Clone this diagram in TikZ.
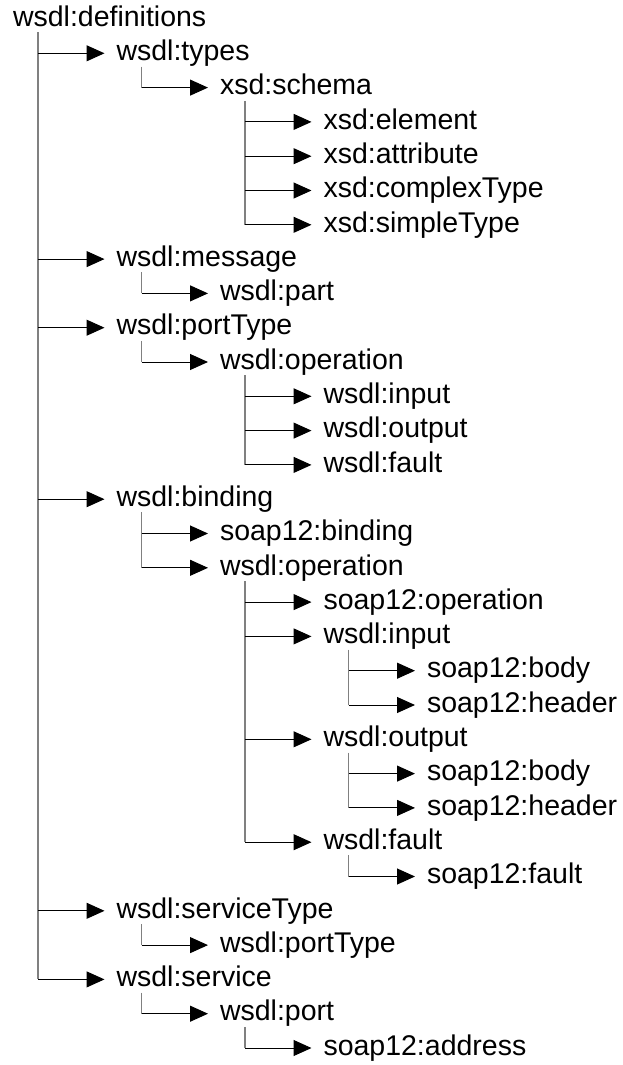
\documentclass[tikz,border=0pt]{standalone}
\usepackage{fontspec}
\setmainfont{Liberation Sans}
\usetikzlibrary{arrows.meta}

% place an element label: row, depth, name, text
\newcommand\wentry[4]{%
  \node[lbl] (#3) at ({13+103.5*#2},{19+34.3*(#1-1)}) {#4};
  \coordinate (#3-v) at ([xshift=25pt]#3.south west);}
% vertical trunk below a parent down to its last child
\newcommand\wtrunk[2]{\draw[vline] (#1-v) -- (#1-v |- #2.west);}
% arrow from a parent's trunk to a child
\newcommand\wbranch[2]{\draw[harr] (#1-v |- #2.west) -- ([xshift=-12pt]#2.west);}

\begin{document}
\begin{tikzpicture}[x=1pt, y=-1pt,
  lbl/.style={anchor=west, inner sep=0pt, outer sep=0pt,
    font=\fontsize{28.5}{32}\selectfont, text height=20.5pt, text depth=6pt},
  vline/.style={draw=black!50, line width=1.3pt},
  harr/.style={draw=black, line width=1pt, -{Triangle[length=18pt,width=16pt]}}]
\useasboundingbox (0,0) rectangle (623,1065);

\wentry{1}{0}{defs}{wsdl:definitions}
\wentry{2}{1}{types}{wsdl:types}
\wentry{3}{2}{schema}{xsd:schema}
\wentry{4}{3}{element}{xsd:element}
\wentry{5}{3}{attribute}{xsd:attribute}
\wentry{6}{3}{complexT}{xsd:complexType}
\wentry{7}{3}{simpleT}{xsd:simpleType}
\wentry{8}{1}{message}{wsdl:message}
\wentry{9}{2}{part}{wsdl:part}
\wentry{10}{1}{portT}{wsdl:portType}
\wentry{11}{2}{ptop}{wsdl:operation}
\wentry{12}{3}{ptin}{wsdl:input}
\wentry{13}{3}{ptout}{wsdl:output}
\wentry{14}{3}{ptfault}{wsdl:fault}
\wentry{15}{1}{binding}{wsdl:binding}
\wentry{16}{2}{sbinding}{soap12:binding}
\wentry{17}{2}{bop}{wsdl:operation}
\wentry{18}{3}{sop}{soap12:operation}
\wentry{19}{3}{bin}{wsdl:input}
\wentry{20}{4}{binbody}{soap12:body}
\wentry{21}{4}{binhead}{soap12:header}
\wentry{22}{3}{bout}{wsdl:output}
\wentry{23}{4}{boutbody}{soap12:body}
\wentry{24}{4}{bouthead}{soap12:header}
\wentry{25}{3}{bfault}{wsdl:fault}
\wentry{26}{4}{sfault}{soap12:fault}
\wentry{27}{1}{servT}{wsdl:serviceType}
\wentry{28}{2}{stport}{wsdl:portType}
\wentry{29}{1}{service}{wsdl:service}
\wentry{30}{2}{port}{wsdl:port}
\wentry{31}{3}{address}{soap12:address}

% trunks
\wtrunk{defs}{service}
\wtrunk{types}{schema}
\wtrunk{schema}{simpleT}
\wtrunk{message}{part}
\wtrunk{portT}{ptop}
\wtrunk{ptop}{ptfault}
\wtrunk{binding}{bop}
\wtrunk{bop}{bfault}
\wtrunk{bin}{binhead}
\wtrunk{bout}{bouthead}
\wtrunk{bfault}{sfault}
\wtrunk{servT}{stport}
\wtrunk{service}{port}
\wtrunk{port}{address}

% branches
\foreach \c in {types,message,portT,binding,servT,service} {\wbranch{defs}{\c}}
\wbranch{types}{schema}
\foreach \c in {element,attribute,complexT,simpleT} {\wbranch{schema}{\c}}
\wbranch{message}{part}
\wbranch{portT}{ptop}
\foreach \c in {ptin,ptout,ptfault} {\wbranch{ptop}{\c}}
\wbranch{binding}{sbinding}
\wbranch{binding}{bop}
\foreach \c in {sop,bin,bout,bfault} {\wbranch{bop}{\c}}
\wbranch{bin}{binbody}
\wbranch{bin}{binhead}
\wbranch{bout}{boutbody}
\wbranch{bout}{bouthead}
\wbranch{bfault}{sfault}
\wbranch{servT}{stport}
\wbranch{service}{port}
\wbranch{port}{address}
\end{tikzpicture}
\end{document}
